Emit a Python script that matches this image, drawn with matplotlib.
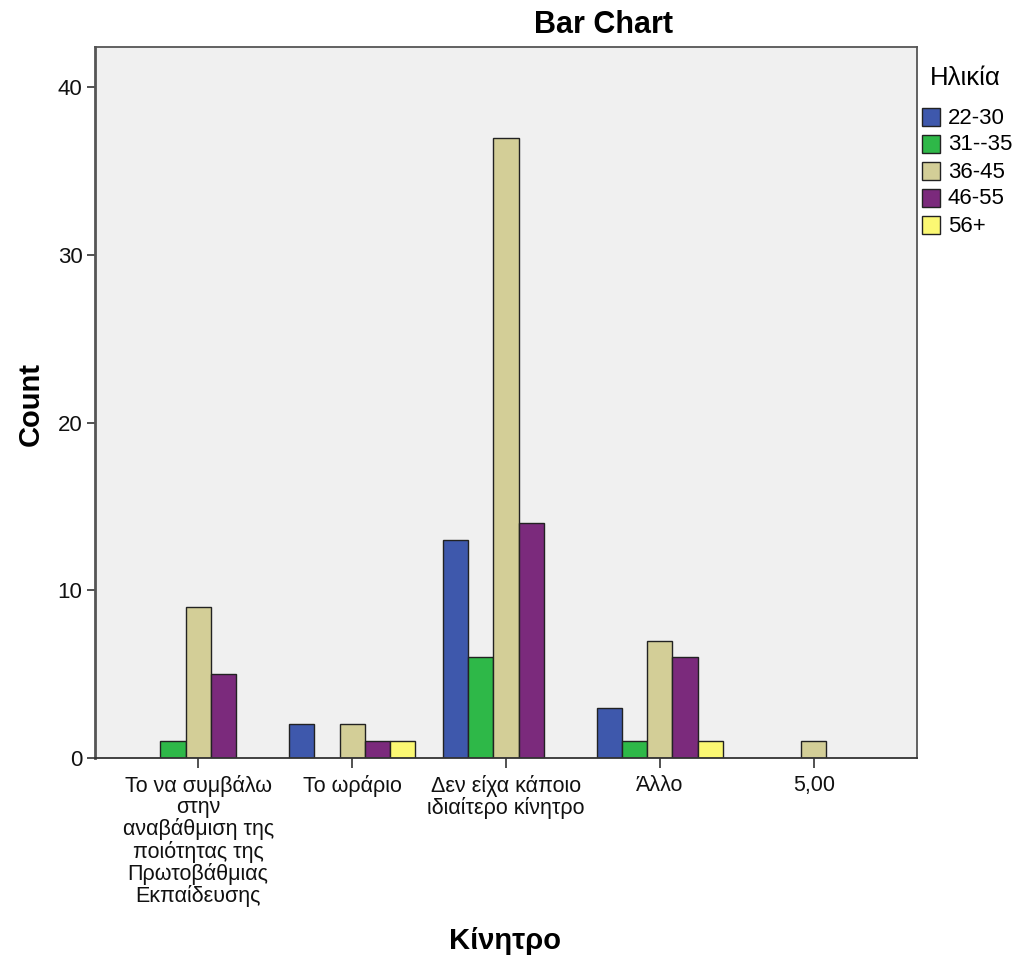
import matplotlib
matplotlib.use("Agg")
import matplotlib.pyplot as plt
import numpy as np
from matplotlib.patches import Rectangle

categories = ["Το να συμβάλω\nστην\nαναβάθμιση της\nποιότητας της\nΠρωτοβάθμιας\nΕκπαίδευσης",
              "Το ωράριο", "Δεν είχα κάποιο\nιδιαίτερο κίνητρο", "Άλλο", "5,00"]
groups = ["22-30", "31--35", "36-45", "46-55", "56+"]
v_22_30 = [0, 2, 13, 3, 0]
v_31_35 = [1, 0, 6, 1, 0]
v_36_45 = [9, 2, 37, 7, 1]
v_46_55 = [5, 1, 14, 6, 0]
v_56 = [0, 1, 0, 1, 0]
series = [v_22_30, v_31_35, v_36_45, v_46_55, v_56]
colors = ["#3e58ac", "#2eb848", "#d3ce97", "#7b2a7c", "#fbf873"]

plt.rcParams['font.family'] = ['Liberation Sans', 'DejaVu Sans']

W, H = 1014, 955
fig = plt.figure(figsize=(W/100, H/100), dpi=100)
ax = fig.add_axes([95/W, 1-758/H, (917-95)/W, (758-47)/H])
ax.set_facecolor("#f0f0f0")

x = np.arange(len(categories))
w = 0.163
for i, (vals, c) in enumerate(zip(series, colors)):
    xs = x + (i - 2) * w
    for xi, v in zip(xs, vals):
        if v > 0:
            ax.bar(xi, v, width=w, color=c, edgecolor="#222222", linewidth=1.0)

ax.set_xlim(-0.67, 4.67)
ax.set_ylim(0, 42.4)
ax.set_yticks([0, 10, 20, 30, 40])
ax.set_xticks(x)
ax.set_xticklabels(categories, fontsize=15.5, linespacing=1.02, va='top', color="#111111")
ax.tick_params(axis='y', labelsize=16, length=6, width=1.2, color="#333333", pad=3,
               labelcolor="#111111")
ax.tick_params(axis='x', length=7, width=1.2, color="#333333", pad=5)
for s in ax.spines.values():
    s.set_color("#555555")
    s.set_linewidth(1.3)
ax.spines['left'].set_linewidth(2.0)
ax.spines['bottom'].set_color("#333333")

fig.text(31/W, 1-404/H, "Count", fontsize=21, fontweight='bold', rotation=90,
         ha='center', va='center')
fig.text(505/W, 1-941/H, "Κίνητρο", fontsize=21, fontweight='bold', ha='center', va='center')
fig.text(603/W, 1-25/H, "Bar Chart", fontsize=22, fontweight='bold', ha='center', va='center')

# legend
fig.text(930/W, 1-78/H, "Ηλικία", fontsize=18.5, ha='left', va='center')
row_y = [117, 144, 171, 198, 225]
for g, c, yy in zip(groups, colors, row_y):
    fig.add_artist(Rectangle((922/W, 1-(yy+9)/H), 18/W, 18/H, transform=fig.transFigure,
                             facecolor=c, edgecolor="#222222", linewidth=1.0))
    fig.text(948/W, 1-(yy+1)/H, g, fontsize=16, ha='left', va='center')

fig.savefig("out.png", dpi=100)
